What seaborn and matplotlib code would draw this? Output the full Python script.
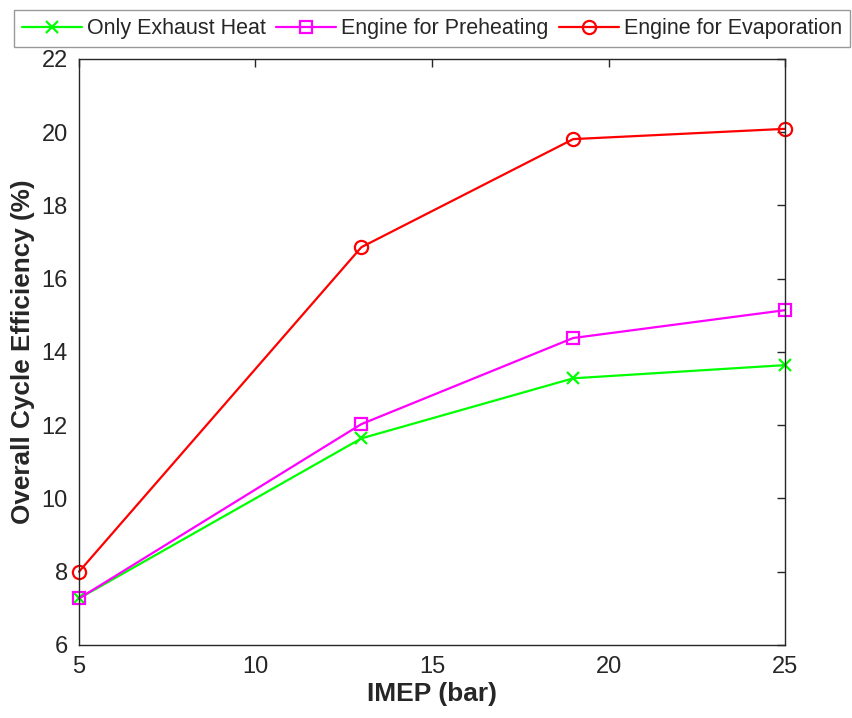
import matplotlib
matplotlib.use("Agg")
import matplotlib.pyplot as plt
import seaborn as sns
import pandas as pd

# IMEP load points (bar)
imep = [5, 13, 19, 25]

# Overall cycle efficiency (%) for each heat-recovery configuration
only_exhaust = [7.27, 11.64, 13.28, 13.64]
engine_preheat = [7.27, 12.03, 14.38, 15.14]
engine_evap = [8.00, 16.86, 19.81, 20.09]

series_names = ["Only Exhaust Heat", "Engine for Preheating", "Engine for Evaporation"]
series_values = [only_exhaust, engine_preheat, engine_evap]
colors = ["#00FF00", "#FF00FF", "#FF0000"]
markers = ["x", "s", "o"]

df = pd.concat(
    [pd.DataFrame({"IMEP": imep, "eff": v, "case": n}) for n, v in zip(series_names, series_values)],
    ignore_index=True,
)

sns.set_style("white")
plt.rcParams["font.family"] = ["Liberation Sans", "DejaVu Sans"]

fig = plt.figure(figsize=(8.52, 7.18), dpi=100)
ax = fig.add_axes([0.0927, 0.1017, 0.8287, 0.8163])

for name, col, mk in zip(series_names, colors, markers):
    sub = df[df["case"] == name]
    sns.lineplot(
        data=sub, x="IMEP", y="eff", ax=ax, color=col, linewidth=1.6,
        marker=mk, markersize=9.5 if mk == "o" else 8,
        markerfacecolor="none", markeredgecolor=col, markeredgewidth=1.6,
        label=name, legend=False,
    )
for ln in ax.get_lines():
    ln.set_clip_on(False)

ax.set_xlim(5, 25)
ax.set_ylim(6, 22)
ax.set_xticks([5, 10, 15, 20, 25])
ax.set_yticks(range(6, 23, 2))
ax.tick_params(direction="in", length=6, width=1, labelsize=17, colors="#262626",
               top=True, right=True, pad=8)
for sp in ax.spines.values():
    sp.set_visible(True)
    sp.set_color("#262626")
    sp.set_linewidth(1.0)

ax.set_xlabel("IMEP (bar)", fontsize=19, fontweight="bold", color="#262626", labelpad=3)
ax.set_ylabel("Overall Cycle Efficiency (%)", fontsize=18.8, fontweight="bold", color="#262626", labelpad=5)

handles, labels = ax.get_legend_handles_labels()
leg = fig.legend(handles, labels, loc="upper left", bbox_to_anchor=(14 / 852, 1 - 10 / 718), ncol=3,
                 fontsize=15.5, frameon=True, fancybox=False, edgecolor="#808080",
                 handlelength=2.79, handletextpad=0.23, columnspacing=0.47, borderpad=0.38,
                 borderaxespad=0)
leg.get_frame().set_linewidth(1.0)
leg.set_zorder(0)

fig.savefig("out.png", dpi=100, facecolor="white")
